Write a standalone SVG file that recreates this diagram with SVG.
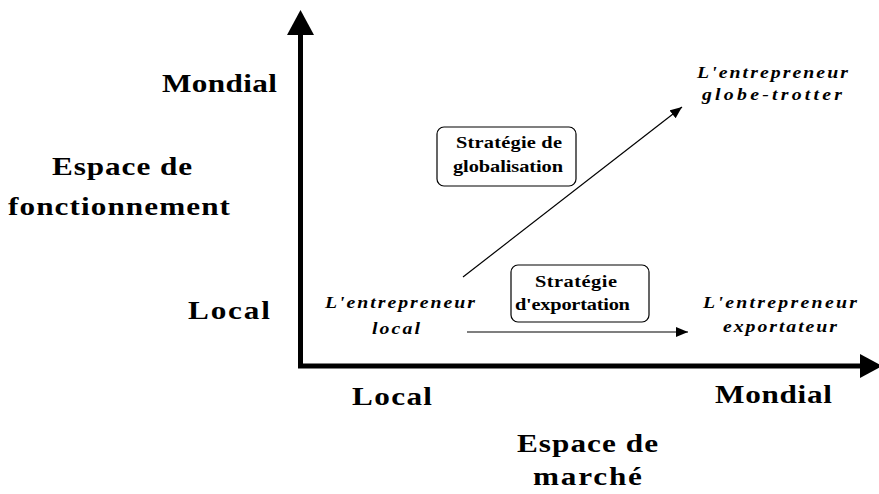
<svg xmlns="http://www.w3.org/2000/svg" width="879" height="494" viewBox="0 0 879 494">
<style>
.big{font-family:"Liberation Serif","Times New Roman",serif;font-weight:bold;font-size:26px;fill:#000}
.it{font-family:"Liberation Serif","Times New Roman",serif;font-weight:bold;font-style:italic;font-size:16.5px;fill:#000}
.bx{font-family:"Liberation Serif","Times New Roman",serif;font-weight:bold;font-size:17px;fill:#000}
.box{fill:#fff;stroke:#000;stroke-width:1.2}
.thin{stroke:#000;stroke-width:1.2;fill:none}
</style>
<defs>
<marker id="ah" markerUnits="userSpaceOnUse" markerWidth="14" markerHeight="12" refX="12" refY="5" orient="auto">
<path d="M0,0 L12,5 L0,10 Z" fill="#000"/>
</marker>
</defs>
<rect width="879" height="494" fill="#fff"/>
<g id="axes">
<line x1="300.5" y1="368" x2="300.5" y2="34" stroke="#000" stroke-width="5"/>
<polygon points="287,35 314,35 300.5,10" fill="#000"/>
<line x1="298" y1="366" x2="861" y2="366" stroke="#000" stroke-width="5"/>
<polygon points="860,354 860,378 882,366" fill="#000"/>
</g>
<g id="axis-labels">
<text class="big" transform="translate(162,92) scale(1.2,1)" textLength="95.8" lengthAdjust="spacing">Mondial</text>
<text class="big" transform="translate(52,175) scale(1.2,1)" textLength="116.7" lengthAdjust="spacing">Espace de</text>
<text class="big" transform="translate(8,215) scale(1.2,1)" textLength="185" lengthAdjust="spacing">fonctionnement</text>
<text class="big" transform="translate(188,319) scale(1.2,1)" textLength="68.3" lengthAdjust="spacing">Local</text>
<text class="big" transform="translate(352,405) scale(1.2,1)" textLength="66.7" lengthAdjust="spacing">Local</text>
<text class="big" transform="translate(715,403) scale(1.2,1)" textLength="97.5" lengthAdjust="spacing">Mondial</text>
<text class="big" transform="translate(517,452) scale(1.2,1)" textLength="117.5" lengthAdjust="spacing">Espace de</text>
<text class="big" transform="translate(533,485) scale(1.2,1)" textLength="90.8" lengthAdjust="spacing">marché</text>
</g>
<g id="connectors">
<line class="thin" x1="463" y1="277" x2="682" y2="107" marker-end="url(#ah)"/>
<line class="thin" x1="467" y1="332" x2="688" y2="332" marker-end="url(#ah)"/>
</g>
<g id="node-local">
<text class="it" transform="translate(325,308) scale(1.2,1)" textLength="125" lengthAdjust="spacing">L'entrepreneur</text>
<text class="it" transform="translate(372,334) scale(1.2,1)" textLength="40" lengthAdjust="spacing">local</text>
</g>
<g id="node-globe">
<text class="it" transform="translate(697,78) scale(1.2,1)" textLength="125.8" lengthAdjust="spacing">L'entrepreneur</text>
<text class="it" transform="translate(702,100) scale(1.2,1)" textLength="116.7" lengthAdjust="spacing">globe-trotter</text>
</g>
<g id="node-export">
<text class="it" transform="translate(703,308) scale(1.2,1)" textLength="128.3" lengthAdjust="spacing">L'entrepreneur</text>
<text class="it" transform="translate(723,332) scale(1.2,1)" textLength="95" lengthAdjust="spacing">exportateur</text>
</g>
<g id="box-globalisation">
<rect class="box" x="437" y="127" width="139" height="59" rx="7"/>
<text class="bx" transform="translate(456,148) scale(1.2,1)" textLength="88.3" lengthAdjust="spacing">Stratégie de</text>
<text class="bx" transform="translate(453,172) scale(1.2,1)" textLength="91.7" lengthAdjust="spacing">globalisation</text>
</g>
<g id="box-exportation">
<rect class="box" x="511" y="265" width="138" height="57" rx="7"/>
<text class="bx" transform="translate(535,287) scale(1.2,1)" textLength="68.3" lengthAdjust="spacing">Stratégie</text>
<text class="bx" transform="translate(515,310) scale(1.2,1)" textLength="95.8" lengthAdjust="spacing">d'exportation</text>
</g>
</svg>
